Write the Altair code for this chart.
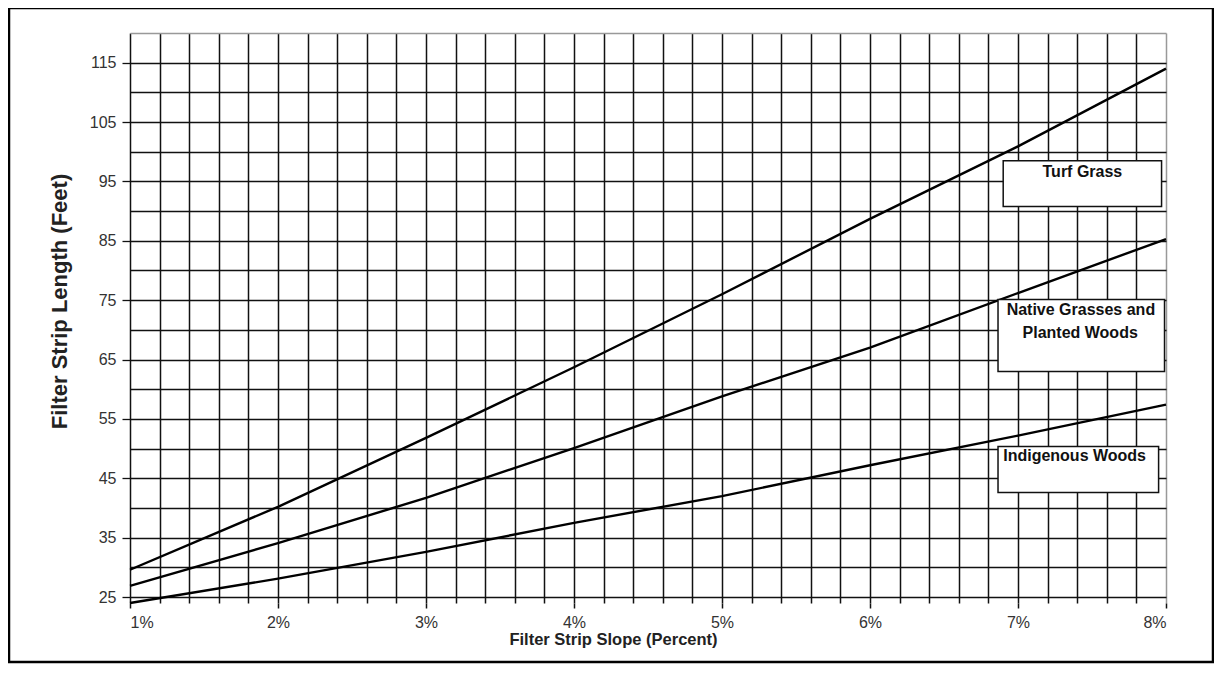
import altair as alt
import pandas as pd

# ---- data ----
slope = [1, 2, 3, 4, 5, 6, 7, 8]
turf_grass = [29.6, 40.2, 51.8, 63.7, 76.0, 88.7, 100.9, 114.0]
native_grasses = [26.9, 34.1, 41.7, 50.1, 58.8, 67.0, 76.2, 85.3]
indigenous_woods = [24.0, 28.1, 32.6, 37.5, 42.0, 47.2, 52.2, 57.4]

series_names = ["Turf Grass", "Native Grasses and Planted Woods", "Indigenous Woods"]

# label boxes (data units)
box_names = ["Turf Grass", "Native Grasses", "Indigenous Woods"]
box_x1 = [6.90, 6.865, 6.865]
box_x2 = [7.97, 7.99, 7.95]
box_y1 = [98.5, 75.1, 50.35]
box_y2 = [90.8, 63.0, 42.6]

label_texts = ["Turf Grass", "Native Grasses and", "Planted Woods", "Indigenous Woods"]
label_x = [7.435, 7.425, 7.42, 6.90]
label_y = [96.65, 73.4, 69.55, 48.8]
label_align = ["center", "center", "center", "left"]

x_grid = [round(1 + 0.2 * i, 1) for i in range(36)]
y_grid = list(range(25, 121, 5))

rows = []
for name, vals in zip(series_names, [turf_grass, native_grasses, indigenous_woods]):
    for s, v in zip(slope, vals):
        rows.append({"series": name, "slope": s, "length": v})
df = pd.DataFrame(rows)

boxes = pd.DataFrame({"name": box_names, "x1": box_x1, "x2": box_x2, "y1": box_y1, "y2": box_y2})
labels = pd.DataFrame({"text": label_texts, "x": label_x, "y": label_y, "align": label_align})

FONT = "Liberation Sans"

xscale = alt.Scale(domain=[1, 8], nice=False, zero=False)
yscale = alt.Scale(domain=[24, 120], nice=False, zero=False)

x_axis = alt.Axis(
    values=x_grid,
    tickCount=60,
    labelExpr="abs(datum.value - round(datum.value)) < 0.01 ? round(datum.value) + '%' : ''",
    labelOverlap=False,
    labelFont=FONT, labelFontSize=16, labelColor="#333",
    labelPadding=6,
    tickSize=5, tickColor="#111", tickWidth=1.5,
    tickOpacity={"condition": {"test": "abs(datum.value - round(datum.value)) < 0.01", "value": 1}, "value": 0},
    grid=True, gridColor={"condition": {"test": "datum.value > 7.99", "value": "#999"}, "value": "#111"},
    gridWidth=1.5, gridOpacity=1,
    domain=False,
    title="Filter Strip Slope (Percent)",
    titleFont=FONT, titleFontSize=16.5, titleFontWeight="bold", titleColor="#222",
    titleX=483, titleY=41, titleBaseline="alphabetic",
)

y_axis = alt.Axis(
    values=y_grid,
    tickCount=60,
    labelExpr="(datum.value - 25) % 10 == 0 ? datum.label : ''",
    labelOverlap=False,
    labelFont=FONT, labelFontSize=16, labelColor="#333",
    labelPadding=6,
    tickSize=8, tickColor="#111", tickWidth=1.3,
    tickOpacity={"condition": {"test": "(datum.value - 25) % 10 == 0", "value": 1}, "value": 0},
    grid=True, gridColor={"condition": {"test": "datum.value >= 120", "value": "#999"}, "value": "#111"},
    gridWidth=1.4, gridOpacity=1,
    domain=False,
    title="Filter Strip Length (Feet)",
    titleFont=FONT, titleFontSize=22, titleFontWeight="bold", titleColor="#222",
    titleAngle=-90, titleX=-64, titleY=268, titleBaseline="alphabetic", titleAlign="center",
)

lines = alt.Chart(df).mark_line(color="black", strokeWidth=2.4).encode(
    x=alt.X("slope:Q", scale=xscale, axis=x_axis),
    y=alt.Y("length:Q", scale=yscale, axis=y_axis),
    detail="series:N",
)

box_layer = alt.Chart(boxes).mark_rect(fill="white", stroke="#111", strokeWidth=1.5).encode(
    x=alt.X("x1:Q", scale=xscale),
    x2="x2:Q",
    y=alt.Y("y1:Q", scale=yscale),
    y2="y2:Q",
)

text_center = alt.Chart(labels[labels["align"] == "center"]).mark_text(
    font=FONT, fontSize=16, fontWeight="bold", color="#111", align="center", baseline="middle"
).encode(
    x=alt.X("x:Q", scale=xscale), y=alt.Y("y:Q", scale=yscale), text="text:N"
)

text_left = alt.Chart(labels[labels["align"] == "left"]).mark_text(
    font=FONT, fontSize=16, fontWeight="bold", color="#111", align="left", baseline="middle"
).encode(
    x=alt.X("x:Q", scale=xscale), y=alt.Y("y:Q", scale=yscale), text="text:N"
)

frame = alt.Chart(alt.Data(values=[{"f": 1}])).mark_rect(
    fill=None, stroke="black", strokeWidth=2.5, clip=False
).encode(
    x=alt.value(-121), x2=alt.value(1083), y=alt.value(-25), y2=alt.value(629)
)

chart = alt.layer(lines, box_layer, text_center, text_left, frame).properties(
    width=1036,
    height=570,
    autosize=alt.AutoSizeParams(type="none"),
    padding={"left": 122, "top": 25, "right": 48, "bottom": 61},
    background="white",
).configure_view(stroke=None)

chart.save("out.html", embed_options={"renderer": "svg", "actions": False})
